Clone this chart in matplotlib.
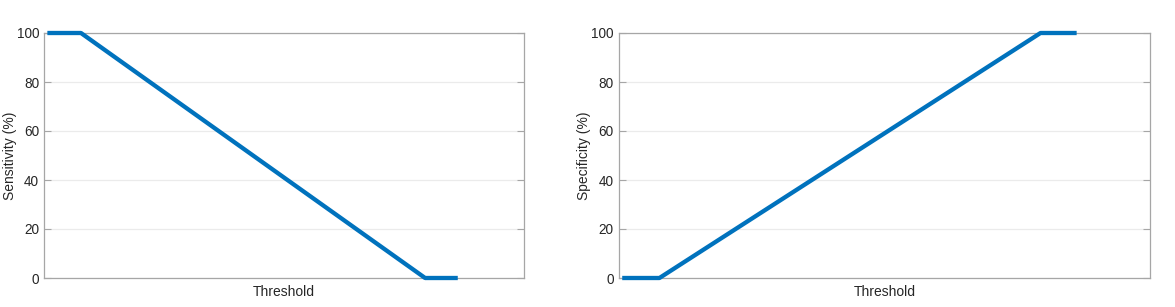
import numpy as np
import matplotlib.pyplot as plt
from matplotlib.transforms import blended_transform_factory

plt.rcParams['font.family'] = ['Liberation Sans', 'DejaVu Sans']

# threshold points (fraction of x-range) and curves in percent
threshold = [0.007, 0.077, 0.794, 0.862]
sensitivity = [100, 100, 0, 0]
specificity = [0, 0, 100, 100]

panels = [
    ("Sensitivity (%)", sensitivity, [44 / 1175, 480 / 1175], 17),
    ("Specificity (%)", specificity, [618.5 / 1175, 531.5 / 1175], 591),
]

edge = "#a6a6a6"
txt = "#262626"

fig = plt.figure(figsize=(11.75, 3.07), dpi=100)
for ylabel, vals, (x0, w), lab_x in panels:
    ax = fig.add_axes([x0, 1 - 278 / 307, w, 245 / 307])
    ax.plot(threshold, vals, color="#0072BD", lw=3.1, solid_capstyle="butt",
            zorder=3, clip_on=False)
    ax.set_xlim(0, 1)
    ax.set_ylim(0, 100)
    ax.set_yticks([0, 20, 40, 60, 80, 100])
    ax.set_xticks([])
    ax.grid(axis="y", color="#ebebeb", lw=0.9)
    ax.set_axisbelow(True)
    ax.tick_params(axis="y", direction="in", length=5, width=0.8, color=edge,
                   labelsize=9.8, labelcolor=txt, right=True, pad=3.5)
    for s in ax.spines.values():
        s.set_color(edge)
        s.set_linewidth(0.9)
    ax.set_ylabel(ylabel, fontsize=10, color=txt)
    ax.yaxis.set_label_coords(lab_x / 1175, 0.5,
                              transform=blended_transform_factory(fig.transFigure, ax.transAxes))
    ax.set_xlabel("Threshold", fontsize=10, color=txt, labelpad=5)

fig.savefig("out.png", dpi=100)
